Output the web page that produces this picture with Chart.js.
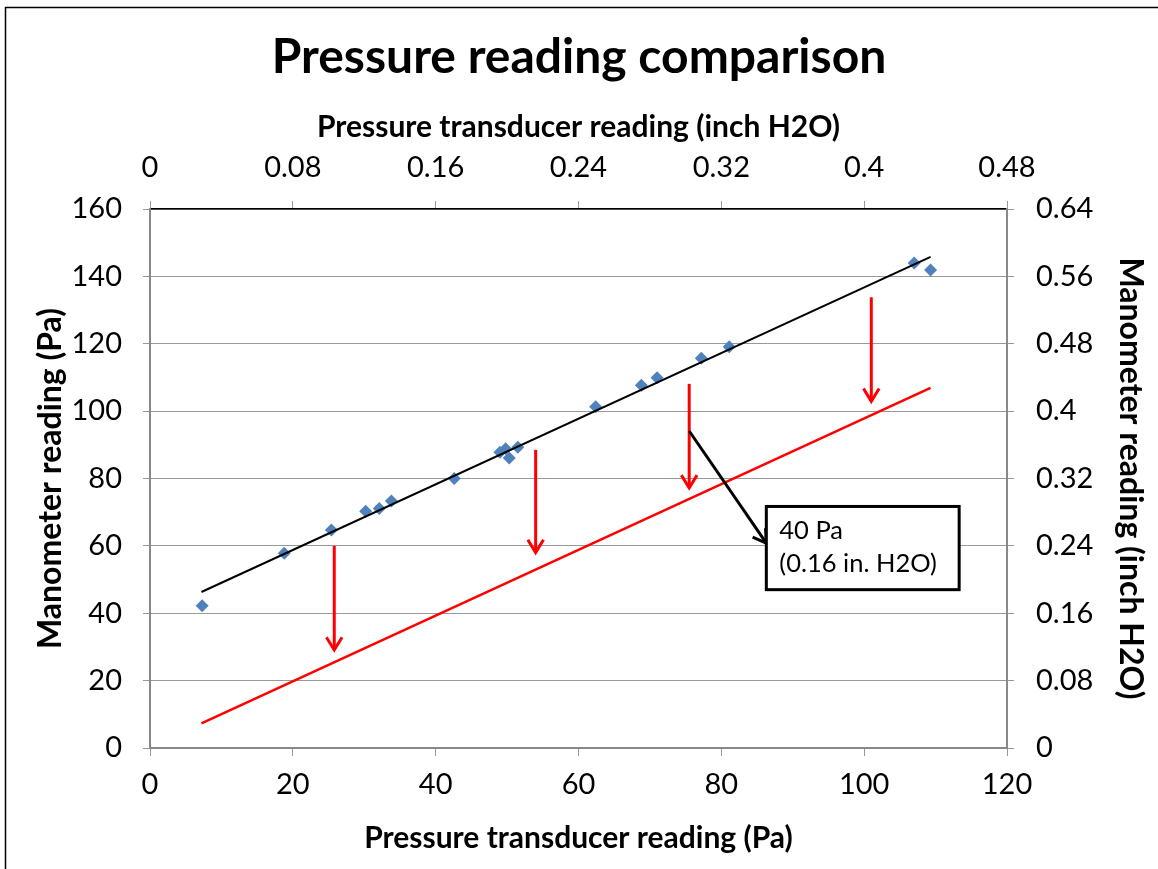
<!DOCTYPE html>
<html>
<head>
<meta charset="utf-8">
<title>Pressure reading comparison</title>
<script src="https://cdn.jsdelivr.net/npm/chart.js@4.4.1/dist/chart.umd.min.js"></script>
<style>
  html, body { margin: 0; padding: 0; background: #fff; }
  #wrap { width: 1158px; height: 869px; }
</style>
</head>
<body>
<div id="wrap"><canvas id="pressureChart" width="1158" height="869"></canvas></div>
<script>
// Measured points: transducer reading vs manometer reading, both in Pa
const transducerPa = [7.3, 18.8, 25.4, 30.2, 32.1, 33.8, 42.6, 49.0, 49.8, 50.3, 51.5, 62.4, 68.8, 71.0, 77.2, 81.1, 107.0, 109.3];
const manometerPa = [42.2, 57.8, 64.7, 70.3, 71.1, 73.3, 80.0, 87.8, 88.8, 86.1, 89.3, 101.3, 107.7, 109.9, 115.7, 119.1, 144.0, 141.9];

// Fit line through the points, and the same line shifted down by ~40 Pa
const fitX = [7.2, 109.3];
const fitY = [46.3, 145.8];
const shiftedY = [7.3, 106.9];

// Red arrows showing the shift (x, start y, end y)
const arrowX = [25.8, 54.0, 75.5, 101.0];
const arrowFrom = [60.0, 88.5, 108.1, 133.8];
const arrowTo = [29.1, 58.0, 77.2, 102.9];

// Callout box and its pointer, in data units
const calloutText = ["40 Pa", "(0.16 in. H2O)"];
const calloutArrowX = [75.5, 86.3];
const calloutArrowY = [94.1, 60.8];
const calloutBoxX = [86.3, 113.3];
const calloutBoxY = [71.7, 47.0];

// Tick labels
const paTicksX = [0, 20, 40, 60, 80, 100, 120];
const paTicksY = [0, 20, 40, 60, 80, 100, 120, 140, 160];
const inchTicksX = ["0", "0.08", "0.16", "0.24", "0.32", "0.4", "0.48"];
const inchTicksY = ["0", "0.08", "0.16", "0.24", "0.32", "0.4", "0.48", "0.56", "0.64"];

Chart.defaults.font.family = "Lato";
Chart.defaults.color = "#000";

const TICK_FONT = { size: 29 };
const X_TITLE_FONT = { size: 30, weight: "bold" };
const Y_TITLE_FONT = { size: 32, weight: "bold" };

function drawArrow(ctx, x1, y1, x2, y2, color, width) {
  const ang = Math.atan2(y2 - y1, x2 - x1);
  const head = 15;
  ctx.save();
  ctx.strokeStyle = color;
  ctx.lineWidth = width;
  ctx.beginPath();
  ctx.moveTo(x1, y1);
  ctx.lineTo(x2, y2);
  ctx.stroke();
  ctx.beginPath();
  ctx.moveTo(x2 - head * Math.cos(ang - 0.55), y2 - head * Math.sin(ang - 0.55));
  ctx.lineTo(x2, y2);
  ctx.lineTo(x2 - head * Math.cos(ang + 0.55), y2 - head * Math.sin(ang + 0.55));
  ctx.stroke();
  ctx.restore();
}

// white background plus the outer frame
const framePlugin = {
  id: "frame",
  beforeDraw(chart) {
    const ctx = chart.ctx;
    ctx.save();
    ctx.fillStyle = "#fff";
    ctx.fillRect(0, 0, chart.width, chart.height);
    ctx.strokeStyle = "#000";
    ctx.lineWidth = 1.5;
    ctx.strokeRect(5.5, 7.5, chart.width + 20, chart.height + 20);
    ctx.restore();
  },
};

// red shift arrows and the callout
const annotationPlugin = {
  id: "annotations",
  afterDraw(chart) {
    const { ctx } = chart;
    const xs = chart.scales.x;
    const ys = chart.scales.y;

    arrowX.forEach((v, i) => {
      const px = xs.getPixelForValue(v);
      drawArrow(ctx, px, ys.getPixelForValue(arrowFrom[i]), px, ys.getPixelForValue(arrowTo[i]), "#ff0000", 3);
    });

    drawArrow(
      ctx,
      xs.getPixelForValue(calloutArrowX[0]), ys.getPixelForValue(calloutArrowY[0]),
      xs.getPixelForValue(calloutArrowX[1]), ys.getPixelForValue(calloutArrowY[1]),
      "#000", 3
    );

    const left = xs.getPixelForValue(calloutBoxX[0]);
    const right = xs.getPixelForValue(calloutBoxX[1]);
    const top = ys.getPixelForValue(calloutBoxY[0]);
    const bottom = ys.getPixelForValue(calloutBoxY[1]);
    ctx.save();
    ctx.fillStyle = "#fff";
    ctx.fillRect(left, top, right - left, bottom - top);
    ctx.strokeStyle = "#000";
    ctx.lineWidth = 3;
    ctx.strokeRect(left, top, right - left, bottom - top);
    ctx.fillStyle = "#000";
    ctx.font = "25.5px Lato";
    ctx.textBaseline = "alphabetic";
    ctx.fillText(calloutText[0], left + 13, top + 33);
    ctx.fillText(calloutText[1], left + 13, top + 66);
    ctx.restore();
  },
};

function fixedTicks(values) {
  return (scale) => {
    scale.ticks = values.map((v) => ({ value: Number(v) }));
  };
}

new Chart(document.getElementById("pressureChart"), {
  type: "scatter",
  data: {
    datasets: [
      {
        label: "Fit",
        data: fitX.map((x, i) => ({ x: x, y: fitY[i] })),
        showLine: true,
        borderColor: "#000",
        borderWidth: 2,
        pointRadius: 0,
        order: 0,
      },
      {
        label: "Measured",
        data: transducerPa.map((x, i) => ({ x: x, y: manometerPa[i] })),
        pointStyle: "rectRot",
        pointRadius: 6.5,
        pointBackgroundColor: "#4f81bd",
        pointBorderColor: "#4f81bd",
        pointBorderWidth: 0,
        order: 1,
      },
      {
        label: "Shifted",
        data: fitX.map((x, i) => ({ x: x, y: shiftedY[i] })),
        showLine: true,
        borderColor: "#ff0000",
        borderWidth: 2.5,
        pointRadius: 0,
        order: 2,
      },
    ],
  },
  options: {
    responsive: false,
    animation: false,
    layout: { padding: 0 },
    plugins: {
      legend: { display: false },
      tooltip: { enabled: false },
      title: {
        display: true,
        text: "Pressure reading comparison",
        font: { size: 48, weight: "bold" },
        padding: { top: 28.7, bottom: 0 },
      },
    },
    scales: {
      x: {
        type: "linear",
        position: "bottom",
        min: 0,
        max: 120,
        afterBuildTicks: fixedTicks(paTicksX),
        afterFit: (s) => { s.height = 121; },
        ticks: { font: TICK_FONT, padding: 11, maxRotation: 0, autoSkip: false },
        grid: { drawOnChartArea: false, tickLength: 8, color: "#999" },
        border: { color: "#888", width: 2 },
        title: { display: true, text: "Pressure transducer reading (Pa)", font: X_TITLE_FONT, padding: { top: 0, bottom: 13 } },
      },
      x2: {
        type: "linear",
        position: "top",
        min: 0,
        max: 0.48,
        afterBuildTicks: fixedTicks(inchTicksX),
        afterFit: (s) => { s.height = 209 - 86.3; },
        ticks: { font: TICK_FONT, padding: 16, maxRotation: 0, autoSkip: false, callback: (v, i) => inchTicksX[i] },
        grid: { drawOnChartArea: false, tickLength: 8, color: "#999" },
        border: { color: "#000", width: 1.5 },
        title: { display: true, text: "Pressure transducer reading (inch H2O)", font: X_TITLE_FONT, padding: { top: 23, bottom: 0 } },
      },
      y: {
        type: "linear",
        position: "left",
        min: 0,
        max: 160,
        afterBuildTicks: fixedTicks(paTicksY),
        afterFit: (s) => { s.width = 150; },
        ticks: { font: TICK_FONT, padding: 21, autoSkip: false },
        grid: { color: "#999", tickLength: 7 },
        border: { color: "#888", width: 2 },
        title: { display: true, text: "Manometer reading (Pa)", font: Y_TITLE_FONT, padding: { top: 31, bottom: 0 } },
      },
      y2: {
        type: "linear",
        position: "right",
        min: 0,
        max: 0.64,
        afterBuildTicks: fixedTicks(inchTicksY),
        afterFit: (s) => { s.width = 151; },
        ticks: { font: TICK_FONT, padding: 22, autoSkip: false, callback: (v, i) => inchTicksY[i] },
        grid: { drawOnChartArea: false, tickLength: 7, color: "#999" },
        border: { color: "#888", width: 2 },
        title: { display: true, text: "Manometer reading (inch H2O)", font: Y_TITLE_FONT, padding: { top: 8, bottom: 0 } },
      },
    },
  },
  plugins: [framePlugin, annotationPlugin],
});
</script>
</body>
</html>
